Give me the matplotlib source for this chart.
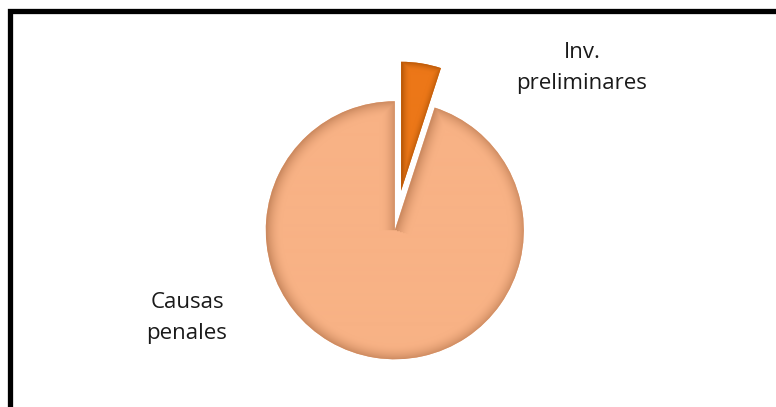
import numpy as np
import matplotlib
matplotlib.use("Agg")
import matplotlib.pyplot as plt
from matplotlib.patches import Rectangle

# share of each kind of case
categories = ["Inv.\npreliminares", "Causas\npenales"]
values = [5, 95]

W, H = 776, 407
fig = plt.figure(figsize=(W / 100, H / 100), dpi=100)
ax = fig.add_axes([0, 0, 1, 1])

cx, cy, r = 395, H - 229, 129
base = ["#EC7718", "#F8B285"]
dark = ["#B85808", "#CC8A60"]
wedges, _ = ax.pie(values, colors=base, startangle=90, counterclock=False,
                   explode=[0.3 * r, 0.01 * r], radius=r, center=(cx, cy),
                   wedgeprops=dict(edgecolor="none"))

# bevel shading inside each wedge, clipped to its outline
ext = (cx - 1.6 * r, cx + 1.6 * r, cy - 1.6 * r, cy + 1.6 * r)
yy, xx = np.mgrid[ext[3]:ext[2]:-1.0, ext[0]:ext[1]:1.0]
for w, c0, c1, bw in zip(wedges, base, dark, (9.0, 16.0)):
    wx, wy = w.center
    dx, dy = xx - wx, yy - wy
    d = np.hypot(dx, dy)
    phi = np.degrees(np.arctan2(dy, dx))
    bd = w.r - d
    for th in (w.theta1, w.theta2):
        diff = np.radians((phi - th + 180) % 360 - 180)
        side = np.where(np.abs(diff) < np.pi / 2, d * np.abs(np.sin(diff)), np.inf)
        bd = np.minimum(bd, side)
    t = np.clip(1 - bd / bw, 0, 1) ** 2.0
    a = np.array(matplotlib.colors.to_rgb(c0))
    b = np.array(matplotlib.colors.to_rgb(c1))
    img = a[None, None, :] * (1 - t[..., None]) + b[None, None, :] * t[..., None]
    im = ax.imshow(img, extent=ext, origin="upper", interpolation="bilinear", zorder=2)
    im.set_clip_path(w)
    w.set_zorder(1)

ax.set_xlim(0, W)
ax.set_ylim(0, H)
ax.set_aspect("auto")
ax.axis("off")

ax.text(582, H - 68, categories[0], ha="center", va="center",
        fontsize=16, family="Open Sans", linespacing=1.65, color="#1a1a1a")
ax.text(187, H - 318, categories[1], ha="center", va="center",
        fontsize=16, family="Open Sans", linespacing=1.65, color="#1a1a1a")

# outer frame
fig.patches.append(Rectangle((9.5, -30), 820, H - 10.5 + 30, transform=None,
                             fill=False, edgecolor="black", linewidth=3.8))

fig.savefig("out.png", dpi=100)
